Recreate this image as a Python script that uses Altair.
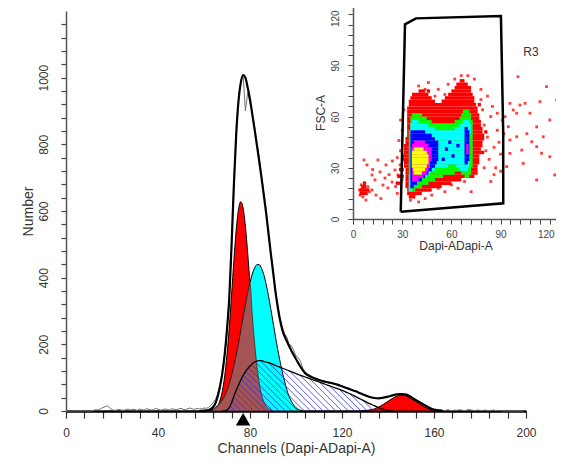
import altair as alt
import numpy as np
import pandas as pd

FONT = "Liberation Sans"
TXT = "#333333"

# ---------------- main histogram (DNA content) ----------------
RAW_CH = list(range(200))
RAW_COUNTS = [
    0, 0, 0, 0, 0, 0, 0, 0, 0, 0,
    0, 0, 2, 4, 3, 7, 10, 13, 16, 9,
    4, 2, 3, 5, 3, 2, 4, 6, 3, 5,
    4, 2, 6, 4, 3, 7, 5, 3, 4, 8,
    5, 3, 4, 6, 5, 3, 7, 5, 4, 6,
    8, 5, 4, 7, 9, 6, 5, 8, 6, 7,
    9, 8, 11, 17, 26, 35, 52, 80, 120, 175,
    250, 345, 505, 690, 825, 935, 990, 1010, 900, 955,
    925, 893, 852, 800, 760, 705, 655, 600, 530, 478,
    425, 365, 318, 280, 252, 232, 222, 200, 196, 182,
    165, 160, 148, 128, 118, 112, 108, 103, 99, 96,
    94, 92, 89, 88, 86, 85, 82, 81, 78, 77,
    74, 72, 69, 68, 64, 62, 59, 56, 53, 50,
    48, 45, 42, 41, 39, 38, 38, 39, 40, 42,
    43, 45, 47, 49, 50, 52, 51, 50, 49, 46,
    42, 38, 33, 29, 25, 21, 17, 13, 10, 7,
    4, 3, 2, 3, 1, 2, 4, 2, 1, 3,
    2, 4, 3, 1, 2, 5, 3, 2, 1, 3,
    2, 1, 3, 2, 1, 2, 3, 1, 2, 1,
    0, 0, 0, 0, 0, 0, 0, 0, 0, 0,
]

FIT_CH = [58, 60, 62, 63, 64, 65, 66, 67, 68, 69, 70, 71, 72, 73, 74, 75, 76, 77, 78, 79,
          80, 81, 82, 83, 84, 85, 86, 87, 88, 89, 90, 91, 92, 93, 94, 95, 96, 97, 98, 99,
          100, 102, 104, 106, 108, 110, 112, 114, 116, 118, 120, 122, 124, 126, 128, 130,
          132, 134, 136, 138, 140, 142, 144, 146, 148, 150, 152, 154, 156, 158, 160, 162, 164]
FIT_V = [0, 1, 3, 6, 12, 24, 45, 75, 115, 170, 245, 340, 500, 680, 830, 930, 985, 1008, 1000, 970,
         935, 890, 845, 798, 750, 700, 648, 595, 535, 475, 420, 362, 315, 275, 245, 225, 210, 195, 181, 168,
         156, 132, 113, 104, 98, 93, 89, 86, 83, 79, 74, 69, 64, 59, 53, 47,
         42, 39, 38, 40, 43, 47, 50, 51, 49, 42, 33, 25, 17, 10, 4, 2, 0]

G1A_CH = list(range(62, 91))
G1A_V = [0, 1, 3, 8, 16, 33, 61, 105, 169, 252, 350, 452, 543, 605, 628, 609, 554, 474, 381, 287,
         204, 136, 85, 50, 28, 14, 7, 3, 0]

G1B_CH = list(range(62, 104))
G1B_V = [0, 2, 5, 11, 16, 23, 33, 45, 61, 81, 105, 134, 166, 201, 240, 279, 317, 353, 385, 411,
         429, 439, 439, 428, 409, 381, 346, 308, 267, 226, 187, 151, 119, 90, 64, 44, 29, 18, 10, 5,
         2, 0]

SPH_CH = [68, 69, 70, 71, 72, 73, 74, 75, 76, 77, 78, 79, 80, 81, 82, 83, 84, 85, 86, 88, 90, 92, 94,
          96, 98, 100, 102, 104, 106, 108, 110, 112, 114, 116, 118, 120, 122, 124, 126, 128, 130,
          132, 134, 136, 138, 140, 142]
SPH_V = [0, 1, 3, 10, 25, 45, 62, 78, 93, 106, 118, 127, 135, 142, 147, 150, 151, 151, 149, 145, 140,
         134, 129, 123, 118, 112, 107, 102, 97, 92, 87, 82, 77, 72, 67, 62, 56, 50, 43, 36, 29,
         22, 16, 10, 5, 2, 0]

G2_CH = [128, 130, 132, 134, 136, 138, 140, 142, 144, 146, 148, 150, 152, 154, 156, 158, 160, 162, 164]
G2_V = [0, 1, 3, 6, 12, 20, 29, 38, 45, 48, 45, 38, 29, 20, 12, 6, 3, 1, 0]

MARKER_CH = [77]
MARKER_V = [-25]

# ---------------- inset dot plot (FSC-A vs Dapi-A) ----------------
# density bands: (y bottom, x from, x to), each band 2 units tall
RED_RUNS = [(78, 63, 70), (76, 62, 72), (74, 40, 44), (74, 60, 72), (72, 36, 46), (72, 58, 73),
            (70, 35, 48), (70, 56, 74), (68, 34, 50), (68, 54, 74), (66, 34, 75), (64, 33, 76),
            (62, 33, 76), (60, 33, 77), (58, 33, 77), (56, 33, 78), (54, 33, 78), (52, 33, 79),
            (50, 33, 79), (48, 33, 80), (46, 32, 80), (44, 32, 79), (42, 31, 79), (40, 31, 78),
            (38, 31, 78), (36, 30, 77), (34, 30, 77), (32, 31, 77), (30, 31, 76), (28, 32, 76),
            (26, 32, 76), (24, 32, 74), (22, 32, 66), (20, 32, 60), (18, 32, 54), (16, 33, 48),
            (14, 33, 42), (12, 34, 38),
            (18, 5, 8), (16, 4, 10), (14, 4, 9), (20, 6, 8), (20, 26, 30), (24, 27, 31),
            (28, 28, 31), (80, 65, 68), (74, 45, 47), (66, 76, 78), (50, 80, 82), (38, 78, 80)]
GREEN_RUNS = [(62, 67, 71), (60, 36, 42), (60, 66, 72), (58, 35, 45), (58, 65, 72), (56, 35, 48),
              (56, 62, 73), (54, 35, 73), (52, 35, 73), (50, 34, 73), (48, 34, 73), (46, 34, 73),
              (44, 34, 73), (42, 34, 73), (40, 34, 73), (38, 34, 73), (36, 34, 73), (34, 34, 73),
              (32, 34, 73), (30, 34, 73), (28, 34, 72), (26, 34, 62), (26, 66, 72), (24, 34, 55),
              (24, 68, 71), (22, 34, 50), (20, 34, 46), (18, 34, 42), (16, 34, 38)]
CYAN_RUNS = [(56, 36, 40), (56, 67, 71), (54, 35, 46), (54, 65, 72), (52, 35, 50), (52, 62, 72),
             (50, 35, 72), (48, 35, 71), (46, 35, 71), (44, 35, 71), (42, 35, 71), (40, 35, 71),
             (38, 35, 71), (36, 35, 71), (34, 35, 71), (32, 35, 71), (30, 35, 58), (30, 63, 71),
             (28, 35, 50), (28, 65, 70), (26, 35, 47), (24, 34, 45), (22, 34, 42), (20, 34, 39),
             (18, 34, 37), (16, 34, 36)]
BLUE_RUNS = [(52, 68, 70), (50, 35, 44), (50, 68, 71), (48, 35, 48), (48, 68, 71), (46, 35, 50),
             (46, 68, 71), (44, 35, 52), (44, 68, 71), (42, 35, 52), (42, 68, 71), (40, 35, 52),
             (40, 68, 71), (38, 35, 52), (38, 68, 71), (36, 35, 52), (36, 68, 71), (34, 35, 52),
             (34, 68, 71), (32, 35, 51), (32, 68, 70), (30, 35, 50), (28, 35, 48), (26, 35, 46),
             (24, 35, 44), (22, 35, 42), (20, 35, 39), (18, 35, 37),
             (40, 56, 58), (36, 60, 62), (44, 58, 60), (34, 54, 56), (42, 63, 65)]
MAGENTA_RUNS = [(44, 37, 44), (42, 36, 46), (40, 35.5, 48), (38, 35.5, 48), (36, 35.5, 48),
                (34, 35.5, 48), (32, 35.5, 47), (30, 35.5, 47), (28, 36, 46), (26, 36, 45),
                (24, 36, 43), (22, 36, 40), (40, 69, 70.5), (42, 69, 70.5), (38, 69, 70.5)]
YELLOW_RUNS = [(40, 37, 43), (38, 36, 45), (36, 36, 46), (34, 36, 46), (32, 36, 46), (30, 36, 45),
               (28, 36.5, 44), (26, 37, 42)]

DOT_X = [4.3, 5, 6, 5, 7, 8, 6, 9, 4, 7, 10, 6.7, 8.5, 11.6, 13.4, 16.5, 18.3, 19.5, 21.3, 23.8,
         25.6, 27.4, 28.7, 29.9, 15.2, 11.6, 7.9, 20.1, 14, 17, 22, 26, 24, 12, 27, 29, 28, 30,
         29, 31, 27,
         95.7, 101.8, 104.9, 107.9, 99.8, 114, 118, 100.6, 124.2, 120, 112, 106, 99.8, 95.7, 102.9,
         112, 120, 95.7, 93.7, 103.8, 112, 123, 94.7, 92.7, 97.7, 109, 116, 115, 80, 82, 84, 86,
         88, 90, 85, 83, 87, 80, 89, 78, 82, 91, 86, 81, 84, 79, 88, 92, 90,
         40, 46, 52, 58, 74, 78, 62, 50, 44, 66, 70, 56,
         48, 56, 64, 40, 72, 35, 60, 68, 52, 44]
DOT_Y = [14, 16, 18, 20, 15, 17, 13, 19, 17, 21, 16, 34.6, 31.7, 25.8, 22.9, 27.6, 19.9, 24, 18.2, 21.7,
         28.7, 25.8, 31.7, 22.9, 34.6, 17, 11.1, 31.7, 14, 12, 26, 19, 34, 29, 36, 40, 46, 52,
         58, 64, 15,
         67.8, 66.8, 67.8, 62, 62, 68.8, 77.6, 83.4, 69.8, 58, 54, 50, 48.2, 46.3, 40.4,
         42.4, 36.5, 38.5, 30.7, 32.6, 22.9, 25.8, 54.1, 60, 63.9, 45.3, 48.2, 38.5, 55, 48, 60, 42,
         52, 38, 66, 35, 30, 30, 45, 70, 72, 58, 26, 40, 22, 64, 62, 50, 28,
         78, 80, 76, 79, 82, 76, 82, 72, 76, 84, 84, 73,
         14, 16, 18, 10, 16, 11, 20, 22, 18, 12]

GATE_X = [29.1, 31.7, 38.4, 90.2, 91.6, 91.6, 29.1]
GATE_Y = [4.3, 114.1, 117.6, 119.0, 50.0, 9.2, 4.3]
GATE_NAME = ["R3"]
GATE_LABEL_X = [108.5]
GATE_LABEL_Y = [98]

# ---------------- frames ----------------
raw_df = pd.DataFrame({"ch": RAW_CH, "v": RAW_COUNTS})
fit_df = pd.DataFrame({"ch": FIT_CH, "v": FIT_V})
g1a_df = pd.DataFrame({"ch": G1A_CH, "v": G1A_V})
g1b_df = pd.DataFrame({"ch": G1B_CH, "v": G1B_V})
b_lookup = dict(zip(G1B_CH, G1B_V))
ovl_df = pd.DataFrame({"ch": G1A_CH, "v": [min(a, b_lookup.get(c, 0)) for c, a in zip(G1A_CH, G1A_V)]})
sph_df = pd.DataFrame({"ch": SPH_CH, "v": SPH_V})
g2_df = pd.DataFrame({"ch": G2_CH, "v": G2_V})
mark_df = pd.DataFrame({"ch": MARKER_CH, "v": MARKER_V})

# hatching of the S-phase area (diagonal lines clipped to the area)
PX_CH = 460 / 200
PX_CT = 400 / 1200
xs = np.linspace(SPH_CH[0], SPH_CH[-1], 4000)
top = np.interp(xs, SPH_CH, SPH_V) * PX_CT
X = xs * PX_CH
segs = []
for c in np.arange(X[0], X[-1] + top.max() + 8, 6.3):
    h = c - X
    ins = np.flatnonzero((h >= 0) & (h <= top))
    if len(ins) < 2:
        continue
    for run in np.split(ins, np.flatnonzero(np.diff(ins) > 1) + 1):
        if len(run) < 2:
            continue
        i0, i1 = run[0], run[-1]
        segs.append({"hx": xs[i0], "hv": h[i0] / PX_CT, "hx2": xs[i1], "hv2": h[i1] / PX_CT})
hatch_df = pd.DataFrame(segs)

levels = [("#ff0000", RED_RUNS), ("#00ff00", GREEN_RUNS), ("#00ffff", CYAN_RUNS),
          ("#0000ff", BLUE_RUNS), ("#ff00ff", MAGENTA_RUNS), ("#ffff00", YELLOW_RUNS)]
rows = []
for k, (col, runs) in enumerate(levels):
    for (y0, x0, x1) in runs:
        rows.append({"x0": x0, "x1": x1, "y0": y0, "y1": y0 + 2, "col": col, "k": k})
dens_df = pd.DataFrame(rows)
dots_df = pd.DataFrame({"dx": DOT_X, "dy": DOT_Y})
gate_df = pd.DataFrame({"gx": GATE_X, "gy": GATE_Y, "i": list(range(len(GATE_X)))})
lab_df = pd.DataFrame({"lx": GATE_LABEL_X, "ly": GATE_LABEL_Y, "t": GATE_NAME})

# ---------------- main scales / axes ----------------
XS = alt.Scale(domain=[0, 200], nice=False, zero=False)
YS = alt.Scale(domain=[0, 1200], nice=False)
X_AXIS = alt.Axis(values=list(range(0, 201, 8)), format="d",
                  labelExpr="datum.value % 40 === 0 ? datum.label : ''",
                  grid=False, tickSize=7, tickColor="#333", tickWidth=1.2,
                  domainColor="#000", domainWidth=2.5, labelFontSize=12, labelColor=TXT,
                  labelFont=FONT, labelPadding=9, labelFlush=False, labelOverlap=False,
                  titleFont=FONT, titleFontSize=14, titleColor=TXT, titleFontWeight="normal",
                  titlePadding=3)
Y_AXIS = alt.Axis(values=list(range(0, 1161, 40)), format="d",
                  labelExpr="datum.value % 200 === 0 ? datum.label : ''",
                  grid=False, tickSize=5, tickColor="#444", tickWidth=1.2,
                  domainColor="#555", domainWidth=1.5, labelAngle=270, labelFontSize=12,
                  labelColor=TXT, labelFont=FONT, labelPadding=11, labelFlush=False,
                  labelOverlap=False, titleFont=FONT, titleFontSize=14, titleColor=TXT,
                  titleFontWeight="normal", titlePadding=2)


def mx(f):
    return alt.X(f, type="quantitative", scale=XS, axis=X_AXIS, title="Channels (Dapi-ADapi-A)")


def my(f):
    return alt.Y(f, type="quantitative", scale=YS, axis=Y_AXIS, title="Number")


g1a = alt.Chart(g1a_df).mark_area(color="#ff0000", stroke="#000", strokeWidth=1,
                                  interpolate="monotone").encode(x=mx("ch"), y=my("v"))
g1b = alt.Chart(g1b_df).mark_area(color="#00ffff", stroke="#000", strokeWidth=1,
                                  interpolate="monotone").encode(x=mx("ch"), y=my("v"))
ovl = alt.Chart(ovl_df).mark_area(color="#a45454", stroke="#3a1a1a", strokeWidth=0.7,
                                  interpolate="monotone").encode(x=mx("ch"), y=my("v"))
g2 = alt.Chart(g2_df).mark_area(color="#ff0000", stroke="#000", strokeWidth=1,
                                interpolate="monotone").encode(x=mx("ch"), y=my("v"))
hatch = alt.Chart(hatch_df).mark_rule(color="#3030d8", strokeWidth=0.8).encode(
    x=mx("hx"), y=my("hv"), x2="hx2", y2="hv2")
sline = alt.Chart(sph_df).mark_line(color="#000", strokeWidth=1.3,
                                   interpolate="monotone").encode(x=mx("ch"), y=my("v"))
raw = alt.Chart(raw_df).mark_line(color="#707070", strokeWidth=1).encode(x=mx("ch"), y=my("v"))
fit = alt.Chart(fit_df).mark_line(color="#000", strokeWidth=2.2,
                                  interpolate="monotone").encode(x=mx("ch"), y=my("v"))
marker = alt.Chart(mark_df).mark_point(shape="triangle-up", filled=True, size=210, color="#000",
                                       opacity=1).encode(x=mx("ch"), y=my("v"))

main = alt.layer(g1a, g1b, ovl, g2, hatch, sline, raw, fit, marker)

# ---------------- inset scales / axes ----------------
IXS = alt.Scale(domain=[0, 125], range=[287, 492], nice=False, zero=False)
IYS = alt.Scale(domain=[0, 125], range=[208, -5.25], nice=False, zero=False)
IX_AXIS = alt.Axis(orient="bottom", offset=-192, values=list(range(0, 126, 6)), format="d",
                   labelExpr="datum.value % 30 === 0 ? datum.label : ''",
                   labelOffset={"condition": {"test": "datum.value === 120", "value": -4}, "value": 0},
                   grid=False, tickSize=5, tickColor="#444", domainColor="#555", domainWidth=1.5,
                   labelFontSize=10, labelColor="#444", labelFont=FONT, labelPadding=5,
                   labelFlush=False, labelOverlap=False, titleFont=FONT, titleFontSize=12,
                   titleColor=TXT, titleFontWeight="normal", titlePadding=1)
IY_AXIS = alt.Axis(orient="left", offset=-287, values=list(range(0, 126, 6)), format="d",
                   labelExpr="datum.value % 30 === 0 ? datum.label : ''",
                   labelOffset={"condition": {"test": "datum.value === 120", "value": 4}, "value": 0},
                   grid=False, tickSize=5, tickColor="#444", domainColor="#555", domainWidth=1.5,
                   labelAngle=270, labelFontSize=10, labelColor="#444", labelFont=FONT,
                   labelPadding=8, labelFlush=False, labelOverlap=False, titleFont=FONT,
                   titleFontSize=12, titleColor=TXT, titleFontWeight="normal", titlePadding=3)


def ix(f):
    return alt.X(f, type="quantitative", scale=IXS, axis=IX_AXIS, title="Dapi-ADapi-A")


def iy(f):
    return alt.Y(f, type="quantitative", scale=IYS, axis=IY_AXIS, title="FSC-A")


dens = alt.Chart(dens_df).mark_rect(opacity=1).encode(
    x=ix("x0"), x2="x1", y=iy("y0"), y2="y1",
    color=alt.Color("col:N", scale=None), order=alt.Order("k:Q"))
dots = alt.Chart(dots_df).mark_square(size=8, color="#ff0000", opacity=0.75).encode(
    x=ix("dx"), y=iy("dy"))
gate = alt.Chart(gate_df).mark_line(color="#000", strokeWidth=2.5).encode(
    x=ix("gx"), y=iy("gy"), order="i:Q")
lab = alt.Chart(lab_df).mark_text(font=FONT, fontSize=12, color=TXT, align="center",
                                  baseline="middle").encode(x=ix("lx"), y=iy("ly"), text="t:N")

inset = alt.layer(dens, dots, gate, lab)

chart = alt.layer(main, inset).resolve_scale(x="independent", y="independent").properties(
    width=460, height=400, autosize="none",
    padding={"left": 58, "top": 3, "right": 30, "bottom": 45},
).configure_view(stroke=None)

chart.save("out.html", embed_options={"renderer": "svg", "actions": False})
